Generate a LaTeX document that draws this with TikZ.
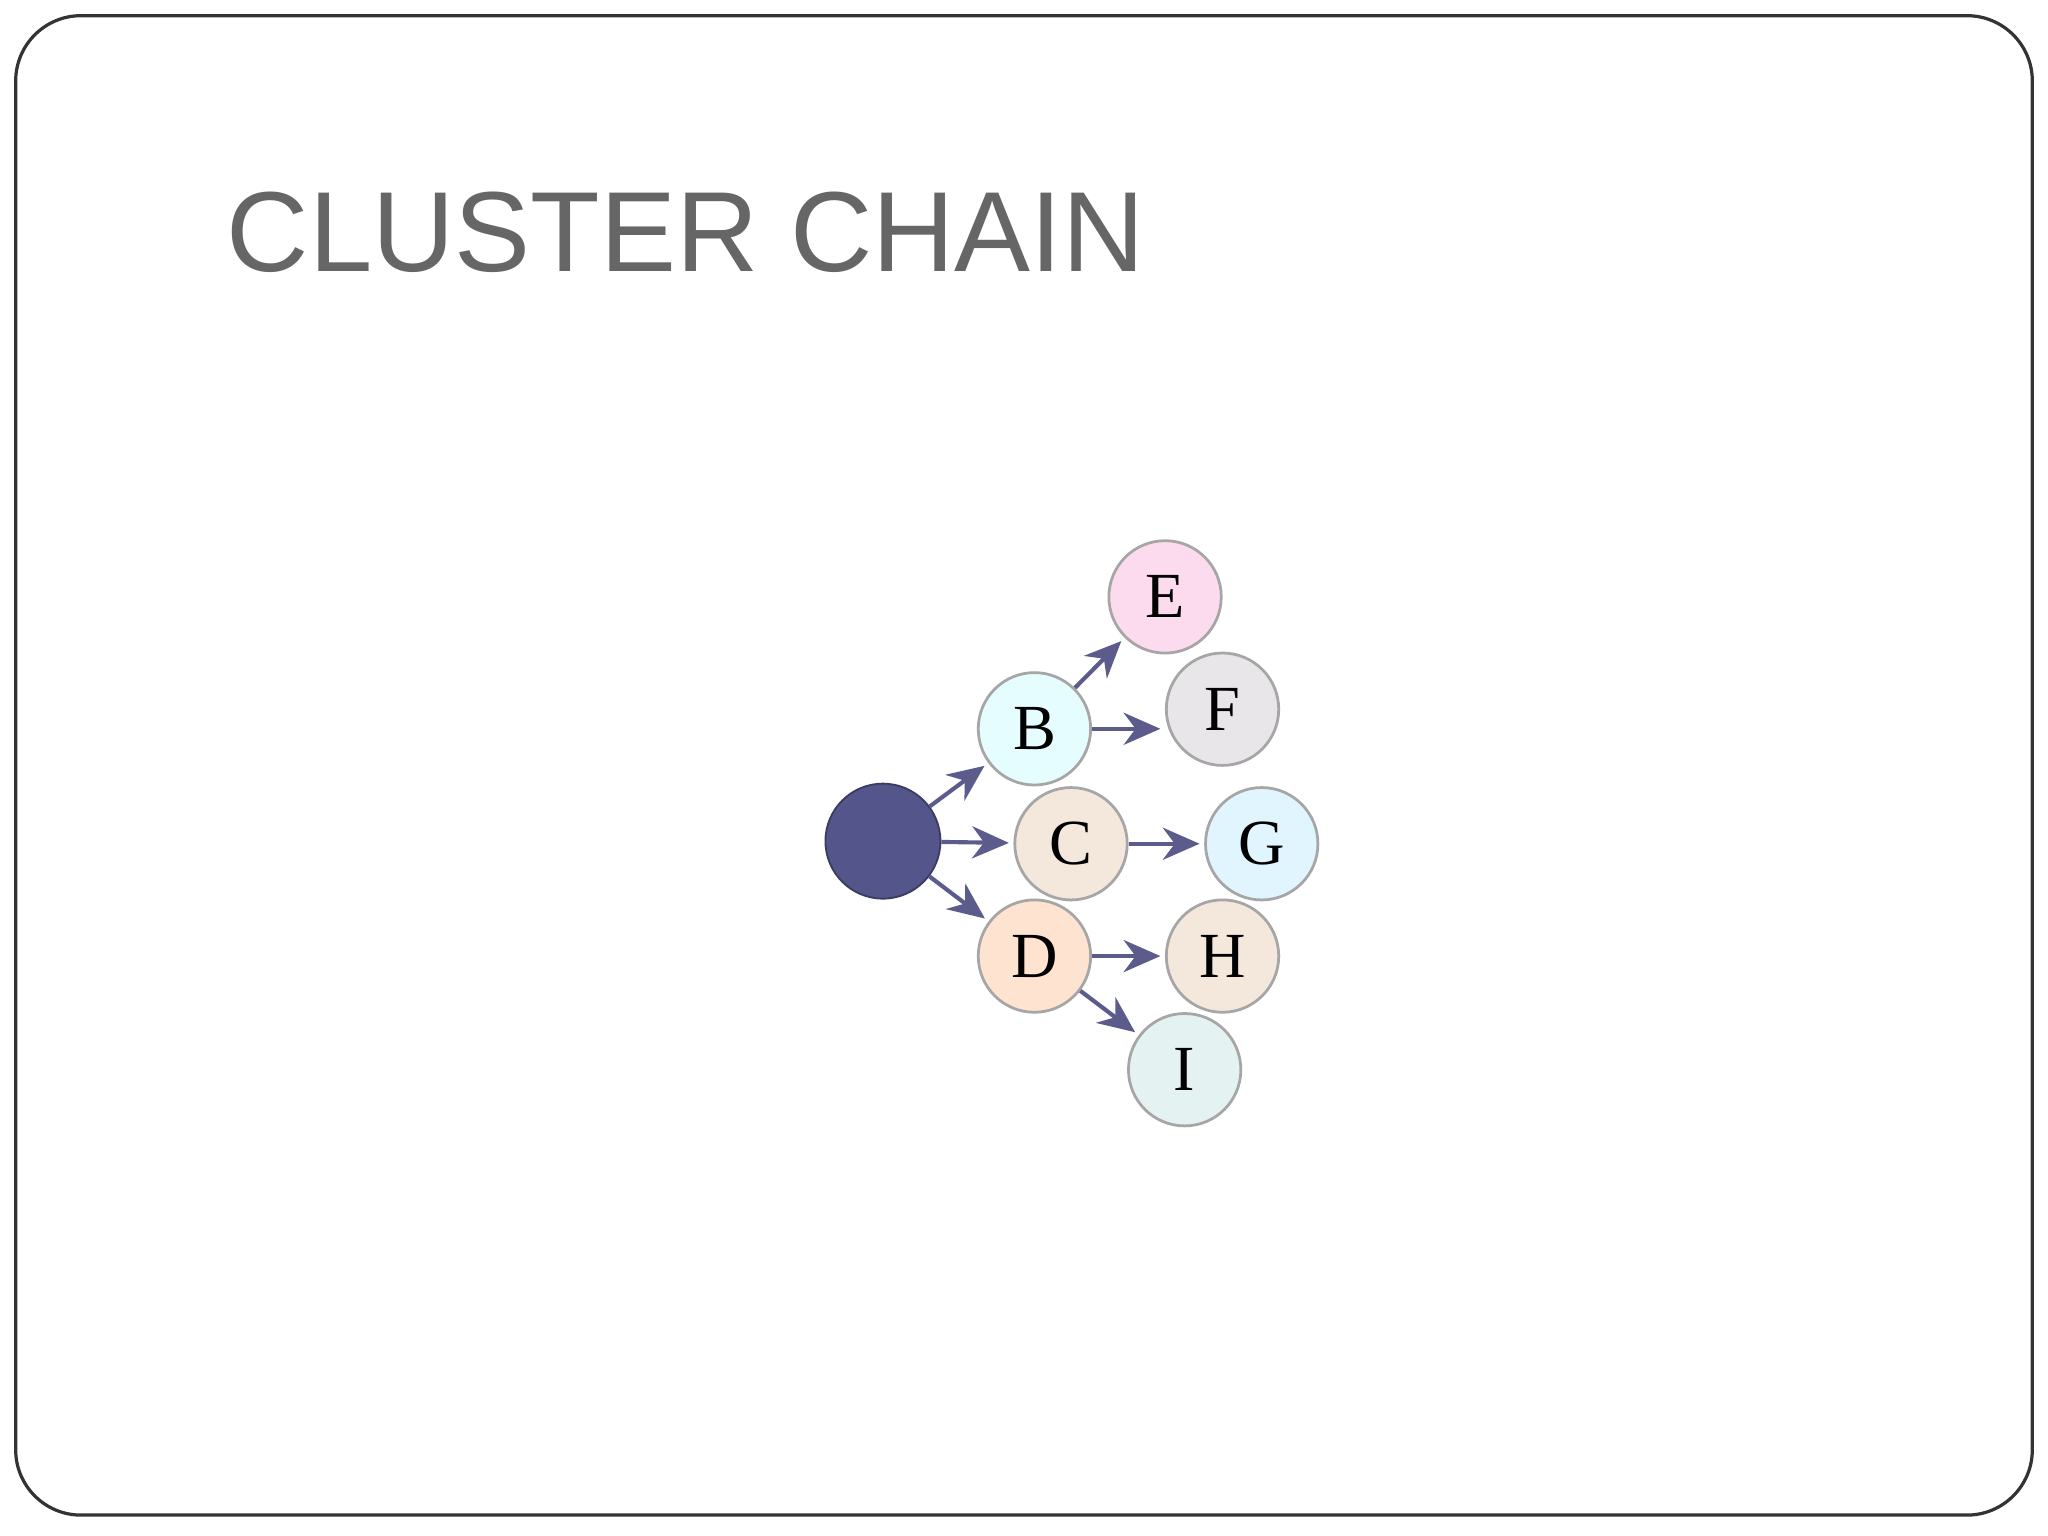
\documentclass[tikz,border=0pt]{standalone}
\usepackage{fontspec}
\setmainfont{Liberation Serif}
\newfontfamily\titlefont{Liberation Sans}
\usetikzlibrary{arrows.meta}
\definecolor{dark}{HTML}{54558A}
\definecolor{arr}{HTML}{5C5C8C}
\tikzset{
 ball/.style={circle,minimum size=0.86cm,inner sep=0pt,draw=gray!70,line width=0.6pt,font=\fontsize{14}{14}\selectfont},
 link/.style={draw=arr,line width=0.9pt,-{Stealth[length=8pt,width=7pt]},shorten >=1pt}
}
\begin{document}
\begin{tikzpicture}[x=0.01cm,y=-0.01cm]
\useasboundingbox (0,0) rectangle (1568,1176);
\fill[white] (0,0) rectangle (1568,1176);
\draw[black!80,line width=0.7pt,rounded corners=0.5cm] (12,12) rectangle (1556,1160);
\node[anchor=base west,inner sep=0pt,text=black!60,font=\titlefont\fontsize{24.8}{25}\selectfont] (title) at (173,208) {CLUSTER CHAIN};
\node[circle,minimum size=0.88cm,inner sep=0pt,fill=dark,draw=dark!70!black] (A) at (676,644) {};
\node[ball,fill=blue!8!cyan!10] (B) at (792,558) {B};
\node[ball,fill=brown!18] (C) at (820,646) {C};
\node[ball,fill=red!22!orange!18] (D) at (792,732) {D};
\node[ball,fill=magenta!14] (E) at (892,457) {E};
\node[ball,fill=violet!10!gray!18] (F) at (936,543) {F};
\node[ball,fill=cyan!12] (G) at (966,646) {G};
\node[ball,fill=brown!18] (H) at (936,732) {H};
\node[ball,fill=teal!10] (I) at (907,819) {I};
\draw[link] (A) -- (B);
\draw[link] (A) -- (C);
\draw[link] (A) -- (D);
\draw[link] (B) -- (E);
\draw[link] (B.east) -- (B.east -| F.west);
\draw[link] (C) -- (G);
\draw[link] (D) -- (H);
\draw[link] (D) -- (I);
\end{tikzpicture}
\end{document}
